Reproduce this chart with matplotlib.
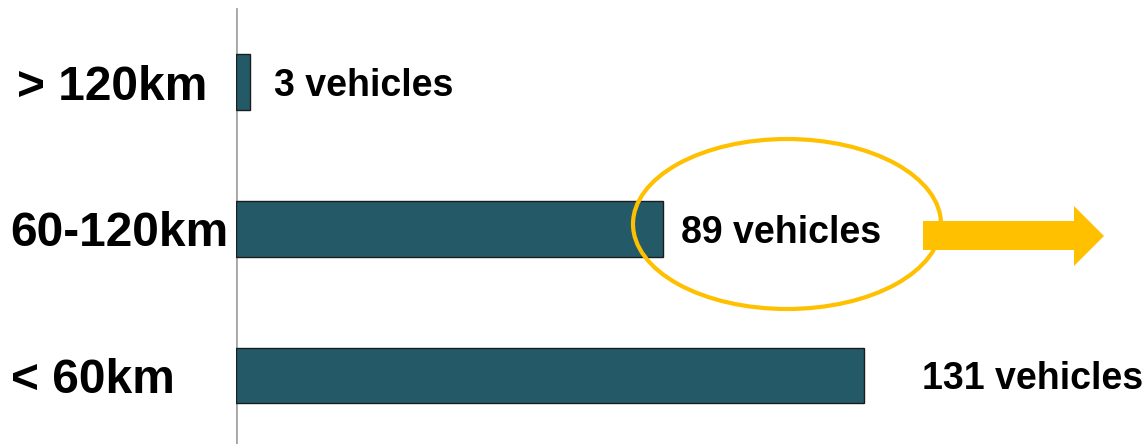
import matplotlib.pyplot as plt
import matplotlib.patches as patches
import matplotlib.transforms as transforms

plt.rcParams['font.family'] = ['Liberation Sans', 'DejaVu Sans']

# data
categories = ['> 120km', '60-120km', '< 60km']
vehicles = [3, 89, 131]
value_labels = ['3 vehicles', '89 vehicles', '131 vehicles']

# layout tweaks
cat_label_x = [17, 10, 11]      # px from left edge
label_offsets = [17, 13, 42]    # pt gap between bar end and label

W, H = 1143, 444
fig = plt.figure(figsize=(W / 100, H / 100), dpi=100)
ax = fig.add_axes([236 / W, 0, 1 - 236 / W, 1])

ypos = [2, 1, 0]
ax.barh(ypos, vehicles, height=0.38, color='#245a68', edgecolor='#1c1c1c', linewidth=1.0, zorder=2)
ax.set_xlim(0, 189.2)
ax.set_ylim(-0.467, 2.559)

for s in ['top', 'right', 'bottom', 'left']:
    ax.spines[s].set_visible(False)
ax.set_xticks([])
ax.set_yticks([])
ax.axvline(0, ymin=0, ymax=1 - 9 / H, color='#a6a6a6', linewidth=2, zorder=1)

# category labels on the left
trans = transforms.blended_transform_factory(fig.transFigure, ax.transData)
for y, cat, lx in zip(ypos, categories, cat_label_x):
    ax.text(lx / W, y, cat, transform=trans, ha='left', va='center_baseline',
            fontsize=34.5, fontweight='bold', color='black')

# value labels
for y, v, lab, off in zip(ypos, vehicles, value_labels, label_offsets):
    ax.annotate(lab, xy=(v, y), xytext=(off, 0), textcoords='offset points',
                ha='left', va='center_baseline', fontsize=27, fontweight='bold', color='black')

# highlight ellipse and arrow (figure pixel coords)
def fx(px):
    return px / W

def fy(py):
    return 1 - py / H

ell = patches.Ellipse((fx(787), fy(224)), 308 / W, 170 / H, transform=fig.transFigure,
                      fill=False, edgecolor='#ffc000', linewidth=3, zorder=5)
fig.patches.append(ell)

arrow_pts = [(923, 221), (1074, 221), (1074, 206), (1104, 236), (1074, 266), (1074, 250), (923, 250)]
arrow = patches.Polygon([(fx(x), fy(y)) for x, y in arrow_pts], closed=True, transform=fig.transFigure,
                        facecolor='#ffc000', edgecolor='none', zorder=6)
fig.patches.append(arrow)

plt.savefig('out.png', dpi=100)
